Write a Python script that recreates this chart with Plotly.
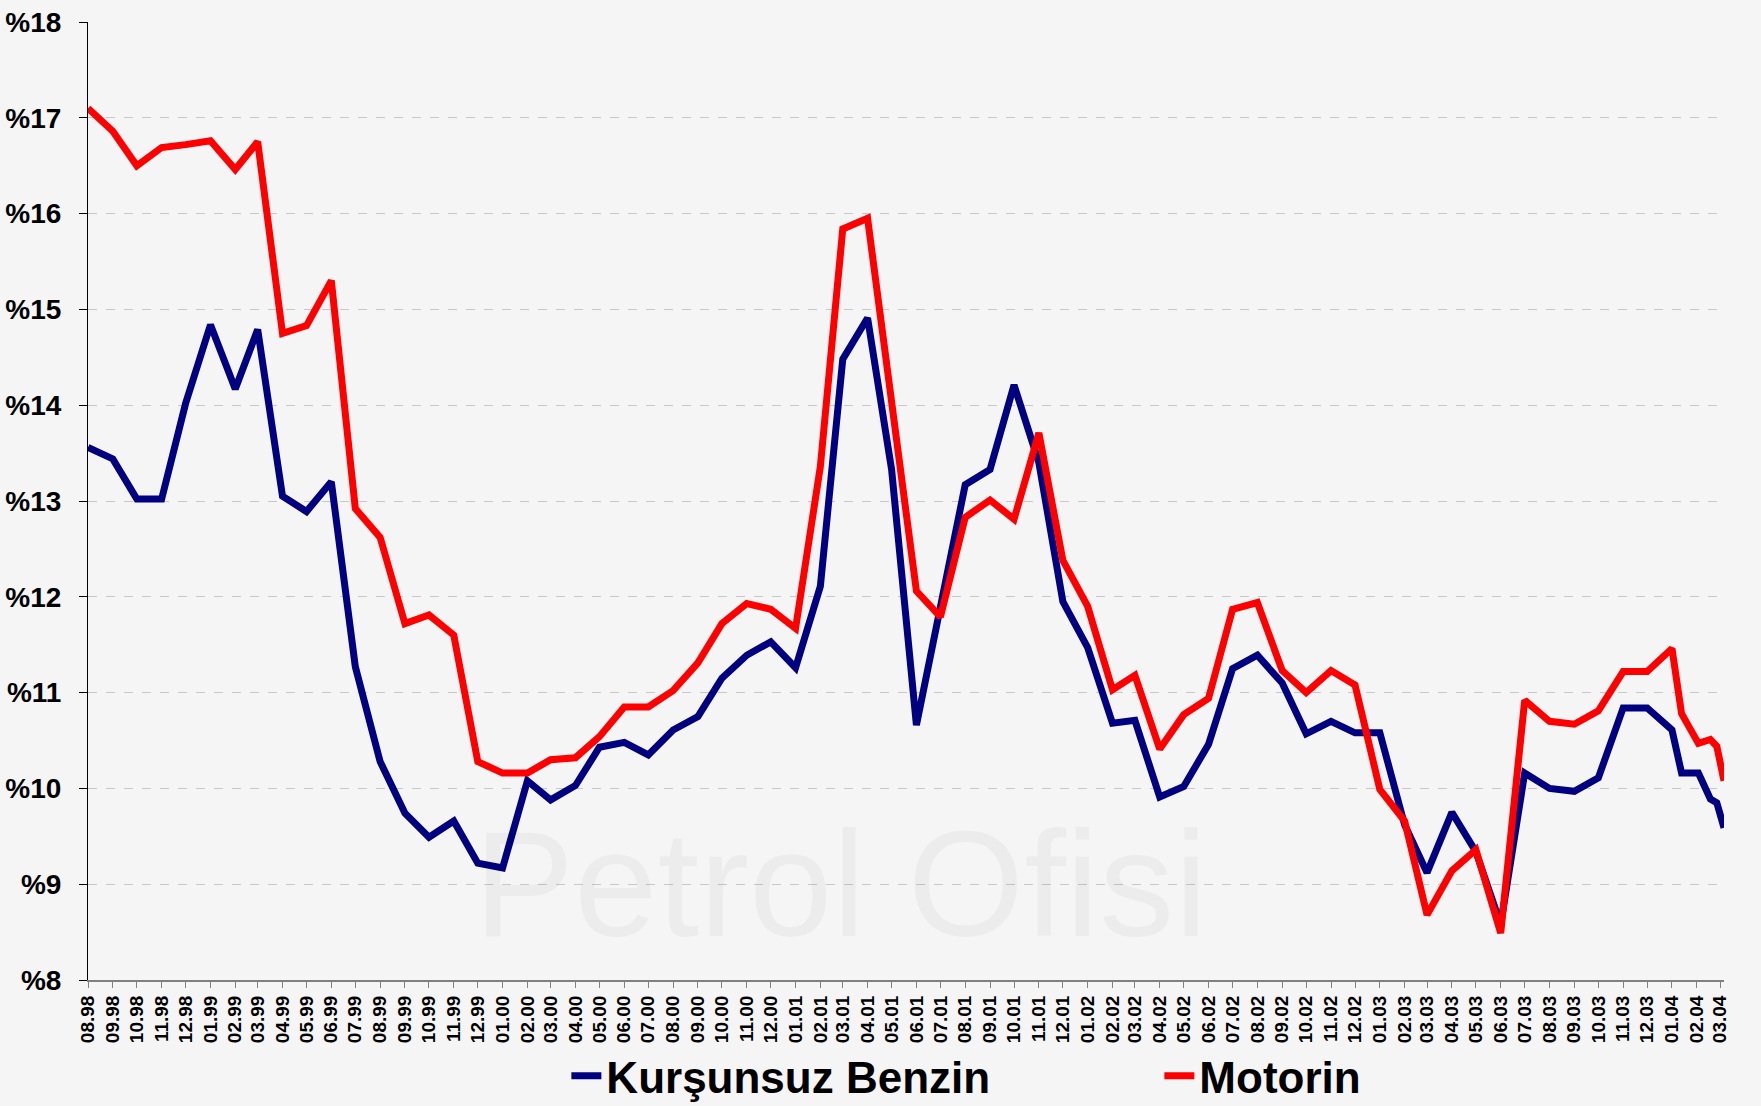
import plotly.graph_objects as go

# Dates of observations (monthly, plus several price-change dates in early 2004)
dates = [
    "1998-08-01", "1998-09-01", "1998-10-01", "1998-11-01", "1998-12-01",
    "1999-01-01", "1999-02-01", "1999-03-01", "1999-04-01", "1999-05-01", "1999-06-01",
    "1999-07-01", "1999-08-01", "1999-09-01", "1999-10-01", "1999-11-01", "1999-12-01",
    "2000-01-01", "2000-02-01", "2000-03-01", "2000-04-01", "2000-05-01", "2000-06-01",
    "2000-07-01", "2000-08-01", "2000-09-01", "2000-10-01", "2000-11-01", "2000-12-01",
    "2001-01-01", "2001-02-01", "2001-03-01", "2001-04-01", "2001-05-01", "2001-06-01",
    "2001-07-01", "2001-08-01", "2001-09-01", "2001-10-01", "2001-11-01", "2001-12-01",
    "2002-01-01", "2002-02-01", "2002-03-01", "2002-04-01", "2002-05-01", "2002-06-01",
    "2002-07-01", "2002-08-01", "2002-09-01", "2002-10-01", "2002-11-01", "2002-12-01",
    "2003-01-01", "2003-02-01", "2003-03-01", "2003-04-01", "2003-05-01", "2003-06-01",
    "2003-07-01", "2003-08-01", "2003-09-01", "2003-10-01", "2003-11-01", "2003-12-01",
    "2004-01-01", "2004-01-13", "2004-02-03", "2004-02-18", "2004-02-26", "2004-03-06",
]

kursunsuz_benzin = [
    13.56, 13.44, 13.02, 13.02, 14.02,
    14.84, 14.17, 14.79, 13.05, 12.89, 13.20,
    11.27, 10.28, 9.74, 9.49, 9.66, 9.22,
    9.17, 10.08, 9.88, 10.03, 10.43, 10.48,
    10.35, 10.61, 10.75, 11.15, 11.39, 11.53,
    11.26, 12.11, 14.48, 14.91, 13.33, 10.66,
    11.90, 13.17, 13.33, 14.21, 13.40, 11.95,
    11.47, 10.68, 10.71, 9.91, 10.02, 10.46,
    11.25, 11.39, 11.10, 10.57, 10.70, 10.58,
    10.58, 9.62, 9.12, 9.75, 9.34, 8.58,
    10.16, 10.00, 9.97, 10.11, 10.84, 10.84,
    10.61, 10.16, 10.16, 9.89, 9.85, 9.59,
]

motorin = [
    17.10, 16.86, 16.50, 16.69, 16.72,
    16.76, 16.46, 16.75, 14.75, 14.83, 15.30,
    12.92, 12.62, 11.72, 11.81, 11.60, 10.28,
    10.16, 10.16, 10.30, 10.32, 10.54, 10.85,
    10.85, 11.02, 11.31, 11.72, 11.93, 11.87,
    11.67, 13.36, 15.84, 15.95, 14.00, 12.06,
    11.79, 12.83, 13.01, 12.81, 13.71, 12.38,
    11.90, 11.03, 11.18, 10.41, 10.77, 10.94,
    11.87, 11.94, 11.23, 11.00, 11.23, 11.08,
    9.99, 9.66, 8.68, 9.14, 9.36, 8.49,
    10.92, 10.70, 10.67, 10.81, 11.22, 11.22,
    11.46, 10.78, 10.47, 10.51, 10.44, 10.08,
]

series_names = ["Kurşunsuz Benzin", "Motorin"]
y_ticks = [8, 9, 10, 11, 12, 13, 14, 15, 16, 17, 18]
y_tick_labels = ["%" + str(v) for v in y_ticks]

BG = "#F6F5F6"
FONT = "Liberation Sans, Arial, sans-serif"

fig = go.Figure()
fig.add_trace(go.Scatter(x=dates, y=kursunsuz_benzin, mode="lines", name=series_names[0],
                         line=dict(color="#000080", width=7)))
fig.add_trace(go.Scatter(x=dates, y=motorin, mode="lines", name=series_names[1],
                         line=dict(color="#FF0000", width=7)))

fig.update_layout(
    width=1761, height=1106,
    margin=dict(l=88, r=37, t=22, b=126, autoexpand=False),
    paper_bgcolor=BG, plot_bgcolor=BG,
    font=dict(family=FONT, color="#000000"),
    showlegend=True,
    legend=dict(orientation="h", x=0.2924, xanchor="left", y=-0.1003, yanchor="middle",
                font=dict(size=44, family=FONT, weight="bold"),
                bgcolor="rgba(0,0,0,0)", entrywidth=548, entrywidthmode="pixels"),
    annotations=[dict(text="Petrol Ofisi", xref="paper", yref="paper", x=0.46, y=0.1,
                      xanchor="center", yanchor="middle", showarrow=False,
                      font=dict(size=150, family=FONT, color="rgba(0,0,0,0.035)"))],
)

fig.update_xaxes(
    type="date", range=["1998-08-01", "2004-03-06"],
    tick0="1998-08-01", dtick="M1", tickformat="%m.%y", tickangle=-90,
    ticks="outside", ticklen=6, tickcolor="#808080",
    showline=True, linecolor="#808080", linewidth=2,
    showgrid=False, zeroline=False,
    tickfont=dict(size=19, family=FONT, weight="bold", color="#000000"),
)
fig.update_yaxes(
    range=[8, 18], tickmode="array", tickvals=y_ticks, ticktext=y_tick_labels,
    ticks="outside", ticklen=8, tickcolor="#000000",
    showline=True, linecolor="#000000", linewidth=1,
    showgrid=True, gridcolor="#C8C8C8", griddash="dash", gridwidth=1,
    zeroline=False, ticklabelstandoff=12,
    tickfont=dict(size=28, family=FONT, weight="bold", color="#000000"),
)

fig.write_html(
    "out.html",
    config={"displayModeBar": False},
    post_script="document.body.style.margin='0px';document.body.style.background='" + BG + "';",
)
